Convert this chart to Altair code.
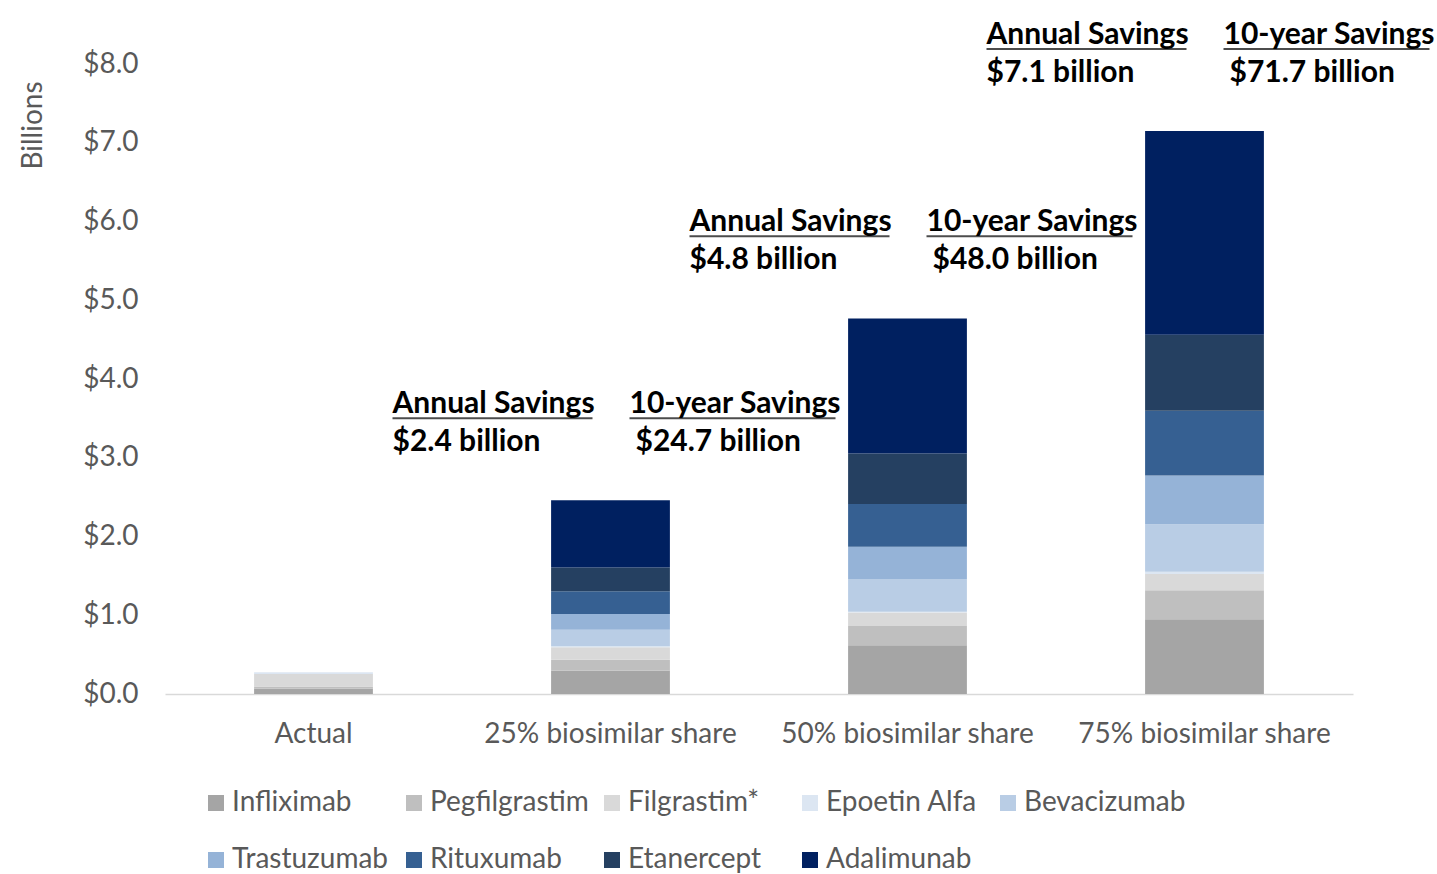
import altair as alt
import pandas as pd

categories = ["Actual", "25% biosimilar share", "50% biosimilar share", "75% biosimilar share"]
drugs = ["Infliximab", "Pegfilgrastim", "Filgrastim*", "Epoetin Alfa", "Bevacizumab",
         "Trastuzumab", "Rituxumab", "Etanercept", "Adalimunab"]
colors = ["#A5A5A5", "#BFBFBF", "#D9D9D9", "#DCE6F2", "#B9CDE5",
          "#95B3D7", "#366092", "#254061", "#002060"]

# values in $ billions, per drug, for each category (Actual, 25%, 50%, 75%)
infliximab    = [0.07, 0.30, 0.62, 0.95]
pegfilgrastim = [0.025, 0.135, 0.245, 0.367]
filgrastim    = [0.16, 0.16, 0.17, 0.207]
epoetin       = [0.02, 0.01, 0.01, 0.028]
bevacizumab   = [0.0, 0.21, 0.415, 0.602]
trastuzumab   = [0.0, 0.20, 0.41, 0.621]
rituximab     = [0.0, 0.29, 0.542, 0.823]
etanercept    = [0.0, 0.30, 0.643, 0.964]
adalimumab    = [0.0, 0.855, 1.714, 2.587]

series = [infliximab, pegfilgrastim, filgrastim, epoetin, bevacizumab,
          trastuzumab, rituximab, etanercept, adalimumab]

ann_categories = ["25% biosimilar share", "50% biosimilar share", "75% biosimilar share"]
annual_savings = ["$2.4 billion", "$4.8 billion", "$7.1 billion"]
ten_year_savings = ["$24.7 billion", "$48.0 billion", "$71.7 billion"]

rows = []
for i, (d, vals) in enumerate(zip(drugs, series)):
    for c, v in zip(categories, vals):
        rows.append({"cat": c, "drug": d, "value": v, "idx": i})
df = pd.DataFrame(rows)

totals = df.groupby("cat")["value"].sum()
ann = pd.DataFrame({
    "cat": ann_categories,
    "annual": annual_savings,
    "tenyear": ten_year_savings,
    "y": [totals[c] + 1.22 for c in ann_categories],
})

FONT = "Lato"
GRAY = "#595959"
FS = 28

x_enc = alt.X("cat:N", sort=categories,
              scale=alt.Scale(paddingInner=0.6, paddingOuter=0.3),
              axis=alt.Axis(title=None, labelAngle=0, labelFontSize=FS, labelColor=GRAY,
                            labelFont=FONT, ticks=False, domainColor="#D9D9D9",
                            domainWidth=1.5, labelPadding=26, labelLimit=400))

bars = alt.Chart(df).mark_bar().encode(
    x=x_enc,
    y=alt.Y("value:Q", stack="zero",
            scale=alt.Scale(domain=[0, 8]),
            axis=alt.Axis(title="Billions", values=[0, 1, 2, 3, 4, 5, 6, 7, 8],
                          labelExpr="'$' + format(datum.value, '.1f')",
                          labelFontSize=FS, labelColor=GRAY, labelFont=FONT,
                          ticks=False, domain=False, grid=False, labelPadding=27,
                          titleFont=FONT, titleFontSize=FS, titleColor=GRAY,
                          titleFontWeight="normal", titleAngle=-90,
                          titleX=-132, titleY=61, titleAlign="center",
                          titleBaseline="middle")),
    color=alt.Color("drug:N", sort=drugs,
                    scale=alt.Scale(domain=drugs, range=colors),
                    legend=alt.Legend(title=None, orient="none", legendX=37, legendY=725,
                                      direction="horizontal",
                                      columns=5, symbolType="square", symbolSize=256,
                                      symbolStrokeWidth=0, labelFontSize=FS,
                                      labelFont=FONT, labelColor=GRAY, labelOffset=2,
                                      gridAlign="all", columnPadding=6, rowPadding=29,
                                      padding=0, labelLimit=300)),
    order=alt.Order("idx:Q"),
)

ax = alt.X("cat:N", sort=categories)
base = alt.Chart(ann)
txt_kw = dict(align="left", baseline="middle", font=FONT, fontSize=30,
              fontWeight="bold", color="black")

h1 = base.mark_text(text="Annual Savings", dx=-218, **txt_kw).encode(x=ax, y="y:Q")
v1 = base.mark_text(dx=-218, dy=38, **txt_kw).encode(x=ax, y="y:Q", text="annual:N")
h2 = base.mark_text(text="10-year Savings", dx=19, **txt_kw).encode(x=ax, y="y:Q")
v2 = base.mark_text(dx=25, dy=38, **txt_kw).encode(x=ax, y="y:Q", text="tenyear:N")
u1 = base.mark_tick(orient="horizontal", size=200, thickness=2, color="black",
                    xOffset=-118, yOffset=14).encode(x=ax, y="y:Q")
u2 = base.mark_tick(orient="horizontal", size=206, thickness=2, color="black",
                    xOffset=122, yOffset=14).encode(x=ax, y="y:Q")

chart = alt.layer(bars, h1, v1, h2, v2, u1, u2).properties(
    width=1188, height=630,
    autosize=alt.AutoSizeParams(type="none"),
    padding={"left": 165, "top": 64, "right": 84, "bottom": 180},
).configure(background="white").configure_view(stroke=None, strokeWidth=0)

chart.save("out.html", embed_options={"renderer": "svg", "actions": False})
